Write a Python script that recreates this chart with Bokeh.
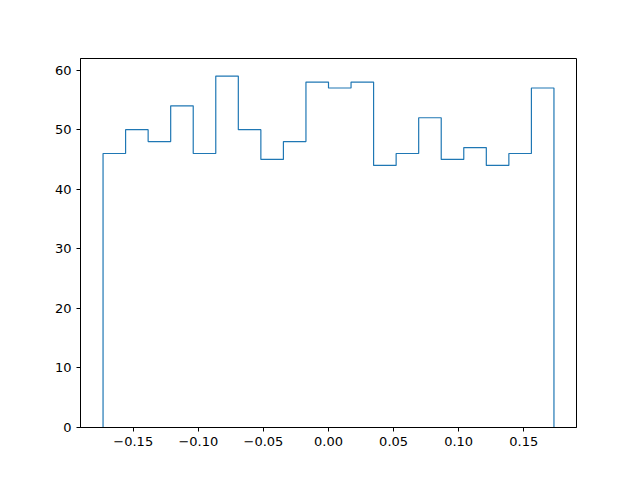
import numpy as np
from bokeh.plotting import figure
from bokeh.models import FixedTicker, Range1d
from bokeh.embed import file_html
from bokeh.resources import INLINE

counts = [46, 50, 48, 54, 46, 59, 50, 45, 48, 58, 57, 58, 44, 46, 52, 45, 47, 44, 46, 57]
bin_lo = -0.1732
bin_hi = 0.1732
x_ticks = [-0.15, -0.10, -0.05, 0.00, 0.05, 0.10, 0.15]
x_labels = ["\u22120.15", "\u22120.10", "\u22120.05", "0.00", "0.05", "0.10", "0.15"]
y_ticks = [0, 10, 20, 30, 40, 50, 60]

edges = np.linspace(bin_lo, bin_hi, len(counts) + 1)
xs = [edges[0]]
ys = [0]
for i, c in enumerate(counts):
    xs += [edges[i], edges[i + 1]]
    ys += [c, c]
xs.append(edges[-1])
ys.append(0)

span = bin_hi - bin_lo
p = figure(width=640, height=480, output_backend="svg", toolbar_location=None,
           x_range=Range1d(bin_lo - 0.05 * span, bin_hi + 0.05 * span),
           y_range=Range1d(0, max(counts) * 1.05),
           min_border_left=80, min_border_right=64, min_border_top=58, min_border_bottom=53)
p.line(xs, ys, line_color="#1f77b4", line_width=1.2)

p.xgrid.visible = False
p.ygrid.visible = False
p.outline_line_color = "black"
p.outline_line_width = 1
for ax in (p.xaxis[0], p.yaxis[0]):
    ax.axis_line_color = "black"
    ax.major_tick_line_color = "black"
    ax.major_tick_out = 4
    ax.major_tick_in = 0
    ax.minor_tick_line_color = None
    ax.major_label_text_font = "DejaVu Sans"
    ax.major_label_text_font_size = "13px"
    ax.major_label_text_color = "black"
    ax.major_label_standoff = 5
p.xaxis[0].ticker = FixedTicker(ticks=x_ticks)
p.xaxis[0].major_label_overrides = {t: l for t, l in zip(x_ticks, x_labels)}
p.yaxis[0].ticker = FixedTicker(ticks=y_ticks)

open("out.html", "w").write(file_html(p, INLINE))
